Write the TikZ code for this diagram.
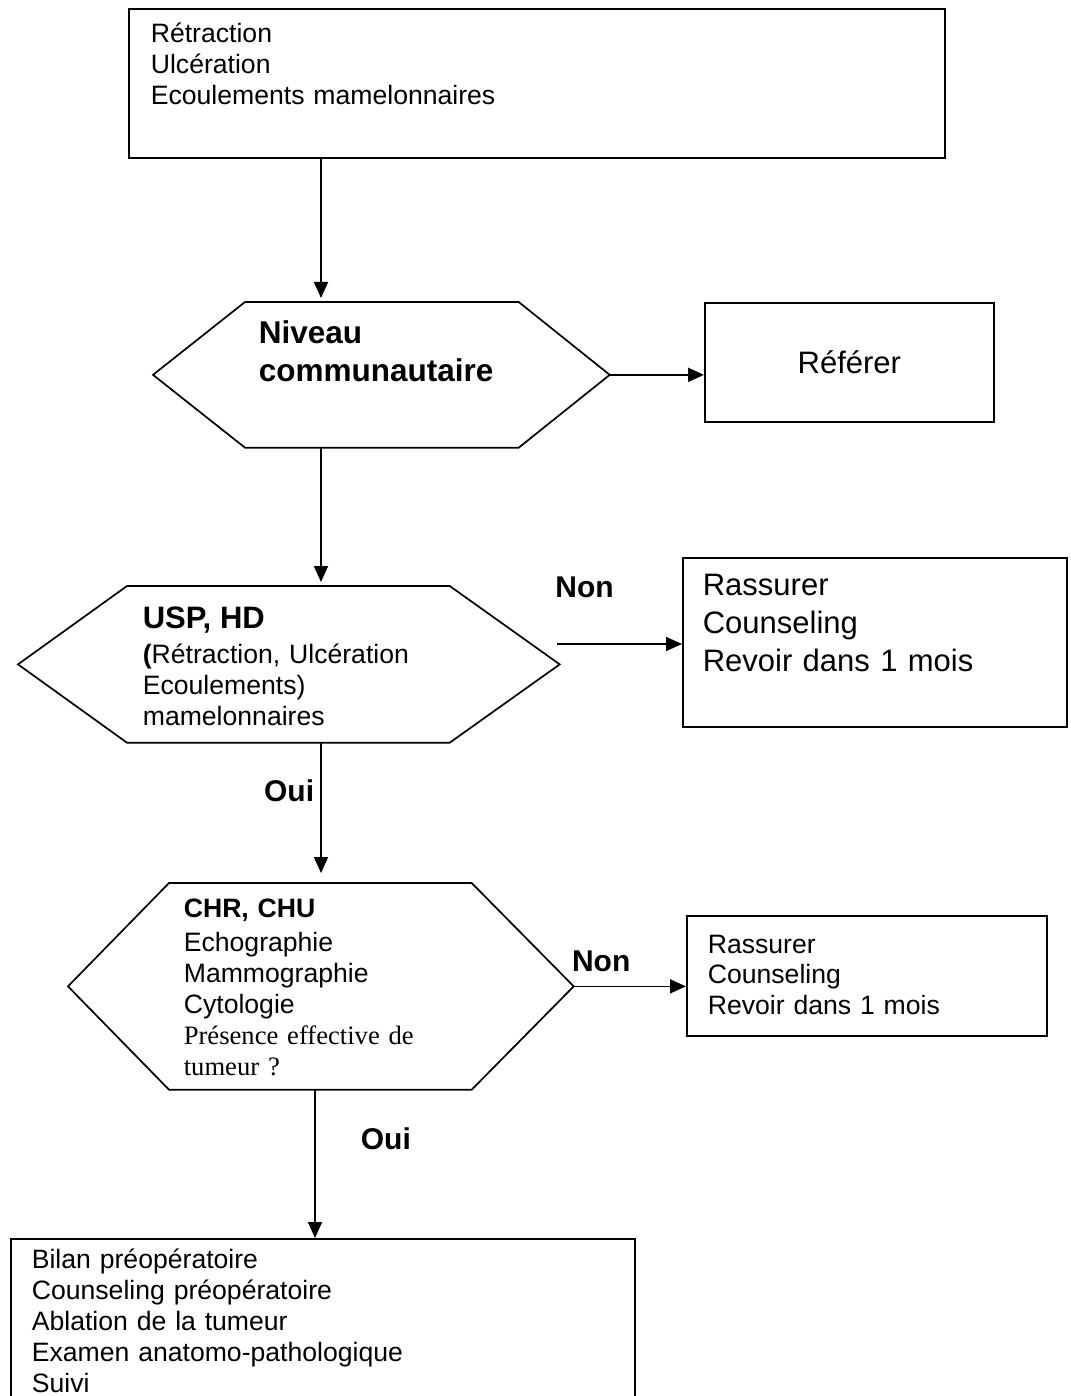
\documentclass[tikz,border=0pt]{standalone}
\usepackage{fontspec}
\setmainfont{Liberation Sans}
\newfontfamily\timesfont{Liberation Serif}
\usepackage{tikz}
\usetikzlibrary{
        arrows.meta,
        positioning
    }
\tikzset{>={Triangle[length=16pt,width=14pt]}}
\newcommand{\fsz}[2]{\fontsize{#1}{#2}\selectfont}

\begin{document}
\begin{tikzpicture}[x=1pt,y=-1pt,line width=1.7pt,
        box/.style={draw,rectangle,inner sep=0pt,anchor=north west},
        zone/.style={rectangle,inner sep=0pt,anchor=north west},
        txt/.style={inner sep=0pt,anchor=base west,align=left,text width=#1},
        lbl/.style={font=\fsz{30}{36}\bfseries,inner sep=0pt},
        hexa/.style={draw,line join=miter}]
        \useasboundingbox (0,0) rectangle (1070,1396);
        \clip (0,0) rectangle (1070,1396);
        \coordinate (spine) at (321,0);
        \coordinate (spine2) at (315,0);
        \node[box,minimum width=816,minimum height=149] (symp) at (128,8) {};
        \node[txt=700pt,font=\fsz{26.6}{31}] (symptxt) at (150,43) {Rétraction\\Ulcération\\Ecoulements mamelonnaires};
        \node[zone,minimum width=272,minimum height=144] (niveau) at (245,302) {};
        \draw[hexa] (niveau.north west) -- (niveau.north east) -- ([xshift=91]niveau.east) coordinate (niveauE)
            -- (niveau.south east) -- (niveau.south west) -- ([xshift=-92]niveau.west) -- cycle;
        \node[txt=300pt,font=\fsz{31.5}{38}\bfseries] (niveautxt) at (258,343) {Niveau\\communautaire};
        \node[box,minimum width=289,minimum height=119,font=\fsz{31}{37}] (referer) at (704,302) {Référer};
        \node[zone,minimum width=321,minimum height=155] (usp) at (127,586) {};
        \draw[hexa] (usp.north west) -- (usp.north east) -- ([xshift=110]usp.east)
            -- (usp.south east) -- (usp.south west) -- ([xshift=-109]usp.west) -- cycle;
        \node[txt=320pt,font=\fsz{26.6}{31}] (usptxt) at (142,628) {{\fsz{31}{31}\bfseries USP, HD}\\[4pt]{\bfseries(}Rétraction, Ulcération\\Ecoulements)\\mamelonnaires};
        \coordinate (uspNon) at (557,644);
        \node[box,minimum width=384,minimum height=169] (rassurer) at (682,557) {};
        \node[txt=360pt,font=\fsz{31}{38}] (rassurertxt) at (702,595) {Rassurer\\Counseling\\Revoir dans 1 mois};
        \node[zone,minimum width=301,minimum height=205] (chr) at (169,883) {};
        \draw[hexa] (chr.north west) -- (chr.north east) -- ([xshift=102]chr.east) coordinate (chrE)
            -- (chr.south east) -- (chr.south west) -- ([xshift=-101]chr.west) -- cycle;
        \node[txt=300pt,font=\fsz{26.6}{31}] (chrtxt) at (183,917) {\textbf{CHR, CHU}\\[3pt]Echographie\\Mammographie\\Cytologie\\{\timesfont Présence effective de}\\{\timesfont tumeur ?}};
        \node[box,minimum width=360,minimum height=120] (rassurerbis) at (686,915) {};
        \node[txt=330pt,font=\fsz{26.6}{30.5}] (rassurerbistxt) at (707,953) {Rassurer\\Counseling\\Revoir dans 1 mois};
        \node[box,minimum width=624,minimum height=200] (bilan) at (10,1238) {};
        \node[txt=600pt,font=\fsz{26.6}{31}] (bilantxt) at (31,1268) {Bilan préopératoire\\Counseling préopératoire\\Ablation de la tumeur\\Examen anatomo-pathologique\\Suivi};
        \draw[->,shorten >=4pt] (symp.south -| spine) -- (niveau.north -| spine);
        \draw[->] (niveauE) -- (niveauE -| referer.west);
        \draw[->,shorten >=4pt] (niveau.south -| spine) -- (usp.north -| spine);
        \draw[->] (uspNon) -- node[lbl,above=45pt,pos=0.22] (non1) {Non} (uspNon -| rassurer.west);
        \draw[->,shorten >=10pt] (usp.south -| spine) -- node[lbl,left=6pt,pos=0.34] (oui1) {Oui} (chr.north -| spine);
        \draw[->] (chrE) -- node[lbl,above=14pt,pos=0.245] (non2) {Non} (chrE -| rassurerbis.west);
        \draw[->] (chr.south -| spine2) -- node[lbl,right=45pt,pos=0.33] (oui2) {Oui} (bilan.north -| spine2);
    \end{tikzpicture}
\end{document}
